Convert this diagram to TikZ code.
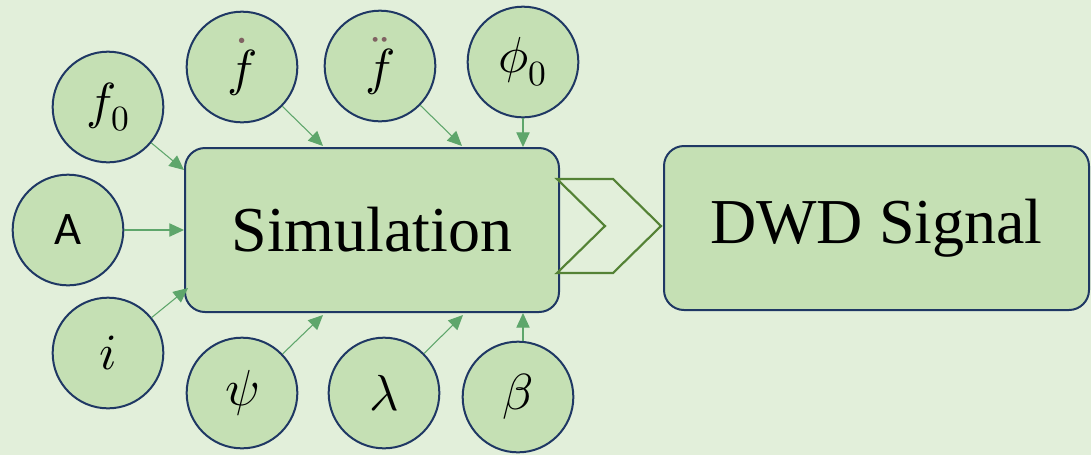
\documentclass[tikz,border=0pt]{standalone}
\usepackage{fontspec}
\usepackage{unicode-math}
\setmainfont{Liberation Serif}
\setmathfont{Latin Modern Math}
\newfontfamily\carlito{Carlito}
\usetikzlibrary{arrows.meta}
\definecolor{bgc}{HTML}{E2EFDA}
\definecolor{fillc}{HTML}{C5E0B4}
\definecolor{edgec}{HTML}{1F3864}
\definecolor{arrc}{HTML}{5EA66B}
\definecolor{chevc}{HTML}{548235}
\definecolor{dotc}{HTML}{806262}
\tikzset{
  param/.style={circle, draw=edgec, fill=fillc, line width=1.5pt, minimum size=83pt, inner sep=0pt,
    font=\fontsize{38}{44}\selectfont},
  bigbox/.style={rectangle, rounded corners=15pt, draw=edgec, fill=fillc, line width=1.5pt,
    minimum height=123pt, inner sep=0pt, font=\fontsize{48}{58}\selectfont},
  feed/.style={draw=arrc, line width=0.8pt, -{Triangle[length=11pt,width=10pt]}},
  chev/.style={draw=chevc, line width=1.6pt, line join=miter},
}
\begin{document}
\begin{tikzpicture}[x=0.75pt,y=-0.75pt]
\fill[bgc] (0,0) rectangle (1091,455);
\useasboundingbox (0,0) rectangle (1091,455);
% boxes
\node[bigbox, minimum width=280.5pt] (sim) at (372,230) {Simulation};
\node[bigbox, minimum width=318.75pt] (dwd) at (876.5,228) {DWD Signal};
% chevron
\draw[chev] (557,179) -- (613,179) -- (661,226) -- (613,273) -- (557,273) -- (605,226) -- cycle;
% parameter circles
\node[param] (f0) at (108,107) {$f_0$};
\node[param] (A) at (68,230) {\carlito\fontsize{35}{40}\selectfont A};
\node[param] (i) at (108,353) {$i$};
\node[param] (fd) at (242,67) {$\color{dotc}\dot{\color{black}f}$};
\node[param] (fdd) at (380,66) {$\color{dotc}\ddot{\color{black}f}$};
\node[param] (phi) at (523,62) {$\phi_0$};
\node[param] (psi) at (242,393) {$\psi$};
\node[param] (lam) at (384,393) {$\lambda$};
\node[param] (beta) at (518,397) {$\beta$};
% arrow targets on the simulation box
\coordinate (tf0) at (184,170);
\coordinate (tA) at (184,230);
\coordinate (ti) at (188,288);
\coordinate (tfd) at (323,146);
\coordinate (tfdd) at (462,146);
\coordinate (tphi) at (523,147);
\coordinate (tpsi) at (323,315);
\coordinate (tlam) at (463,315);
\coordinate (tbeta) at (523,313);
\draw[feed] (f0) -- (tf0);
\draw[feed] (A) -- (tA);
\draw[feed] (i) -- (ti);
\draw[feed] (fd) -- (tfd);
\draw[feed] (fdd) -- (tfdd);
\draw[feed] (phi.south -| tphi) -- (tphi);
\draw[feed] (psi) -- (tpsi);
\draw[feed] (lam) -- (tlam);
\draw[feed] (beta.north -| tbeta) -- (tbeta);
\end{tikzpicture}
\end{document}
